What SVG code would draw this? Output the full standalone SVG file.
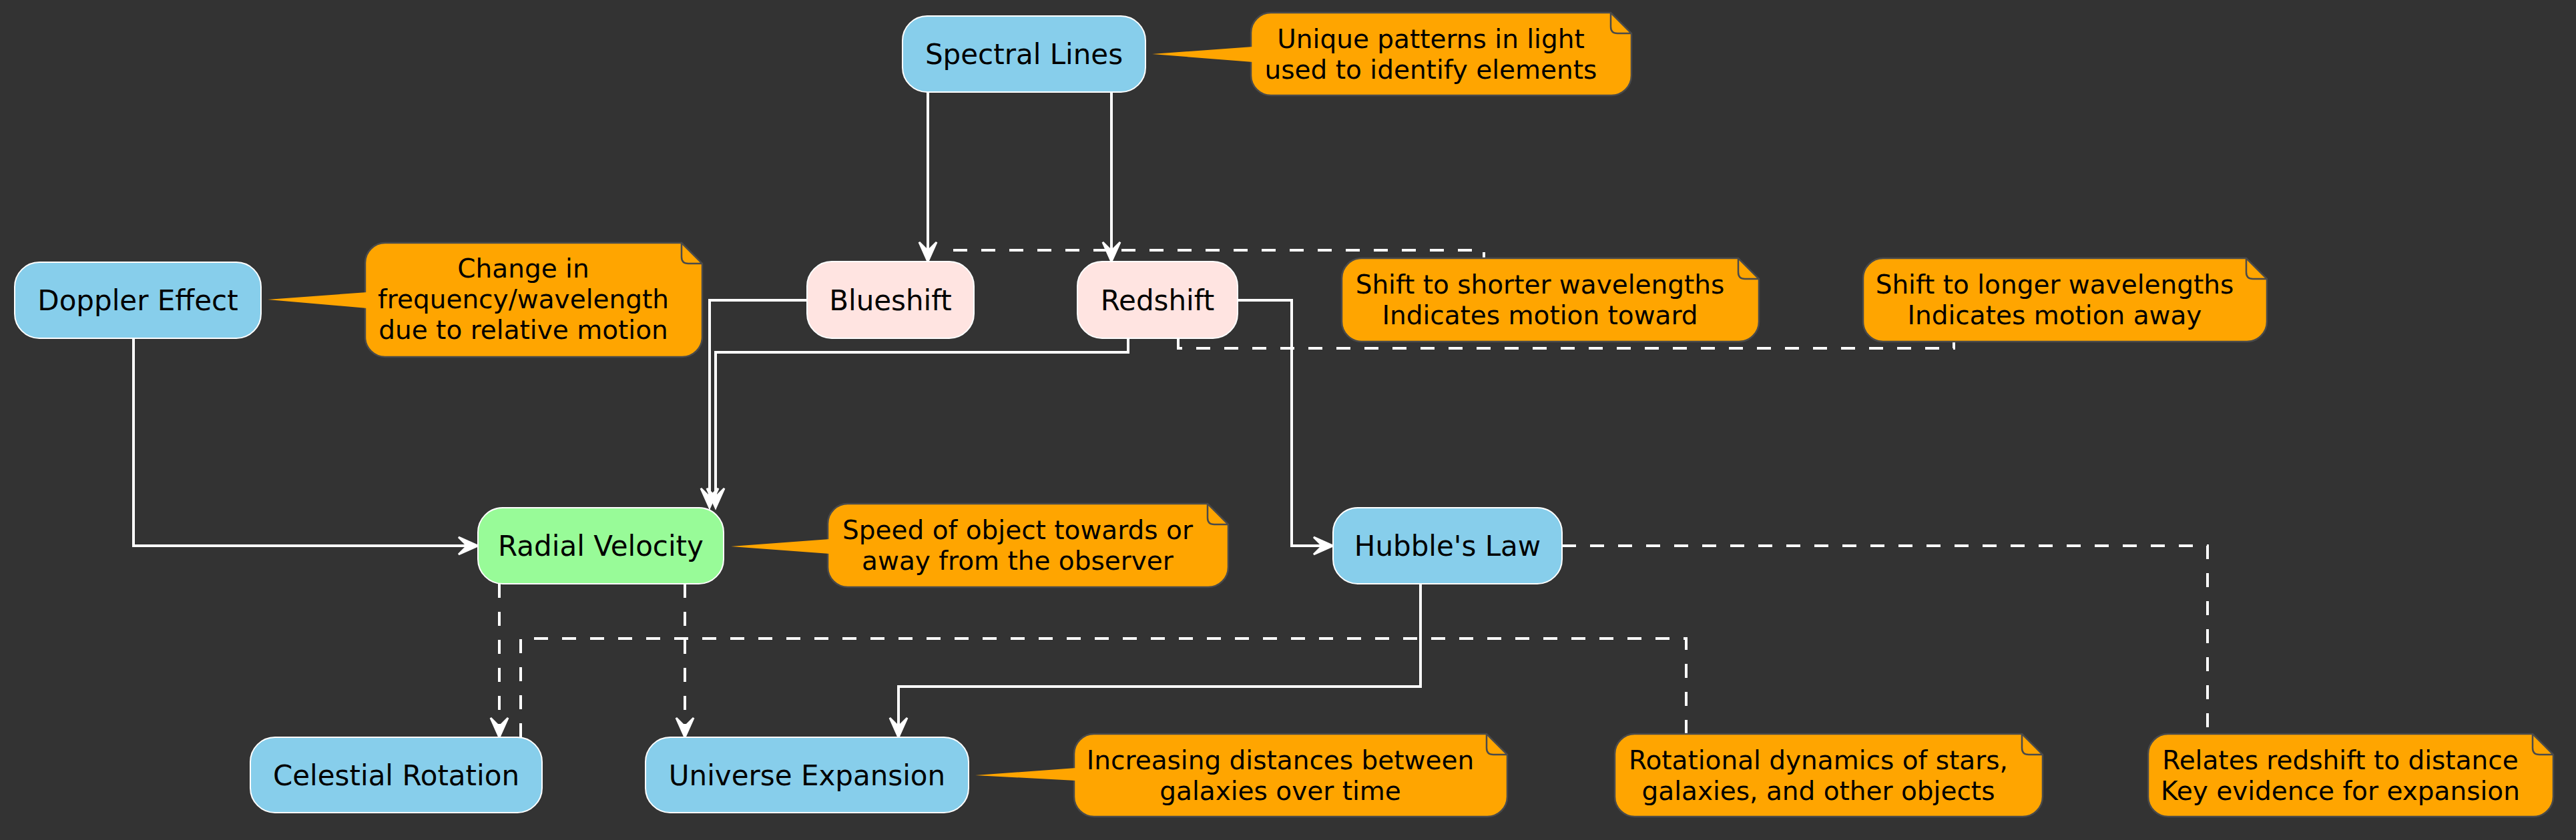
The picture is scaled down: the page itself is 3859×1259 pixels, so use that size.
<svg xmlns="http://www.w3.org/2000/svg" width="3859" height="1259" viewBox="0 0 3859 1259">
<style>
.node{stroke:#FFFFFF;stroke-width:2}
.blue{fill:#87CEEB}
.pink{fill:#FFE4E1}
.green{fill:#98FB98}
.nt{font-family:"DejaVu Sans","Liberation Sans",sans-serif;font-size:42px;fill:#000;text-anchor:middle}
.note{fill:#FFA500;stroke:#4A4A4A;stroke-width:2.5}
.fold{fill:none;stroke:#4A4A4A;stroke-width:2.5}
.tail{fill:#FFA500;stroke:none}
.ntx{font-family:"DejaVu Sans","Liberation Sans",sans-serif;font-size:39px;fill:#000;text-anchor:middle}
.c{fill:none;stroke:#FFFFFF;stroke-width:4}
.d{stroke-dasharray:21 21}
.arr{marker-end:url(#ah)}
</style>
<defs>
<marker id="ah" markerUnits="userSpaceOnUse" viewBox="-34 -18 38 36" refX="-16" refY="0" markerWidth="38" markerHeight="36" orient="auto" overflow="visible">
<path d="M0,0 L-29,-13 L-16,0 L-29,13 Z" fill="#FFFFFF" stroke="#FFFFFF" stroke-width="3" stroke-linejoin="miter" stroke-dasharray="none"/>
</marker>
</defs>
<rect x="0" y="0" width="3859" height="1259" fill="#333333"/>

<g id="connectors">
<path class="c arr" d="M1390,138 V376"/>
<path class="c arr" d="M1665,138 V376"/>
<path class="c arr" d="M200,507 V818 H700"/>
<path class="c arr" d="M1209,450 H1063 V745"/>
<path class="c arr" d="M1690,507 V528 H1072 V745"/>
<path class="c arr" d="M1854,450 H1935 V818 H1981"/>
<path class="c arr" d="M2128,875 V1029 H1346 V1089"/>
<path class="c d arr" d="M748,875 V1089"/>
<path class="c d arr" d="M1026,875 V1089"/>
<path class="c d" d="M780,1105 V957 H2526 V1100"/>
<path class="c d" d="M2340,818 H3307 V1100"/>
<path class="c d" d="M1428,375 H2223 V387"/>
<path class="c d" d="M1765,507 V522 H2927 V512"/>
</g>

<g id="spectral-lines">
<rect class="node blue" x="1352" y="24" width="364" height="114" rx="37" ry="37"/>
<text class="nt" x="1534" y="96">Spectral Lines</text>
</g>
<g id="doppler-effect">
<rect class="node blue" x="22" y="393" width="369" height="114" rx="37" ry="37"/>
<text class="nt" x="206.5" y="465">Doppler Effect</text>
</g>
<g id="blueshift">
<rect class="node pink" x="1209" y="392" width="250" height="115" rx="37" ry="37"/>
<text class="nt" x="1334" y="465">Blueshift</text>
</g>
<g id="redshift">
<rect class="node pink" x="1614" y="392" width="240" height="115" rx="37" ry="37"/>
<text class="nt" x="1734" y="465">Redshift</text>
</g>
<g id="radial-velocity">
<rect class="node green" x="716" y="761" width="368" height="114" rx="37" ry="37"/>
<text class="nt" x="900" y="833">Radial Velocity</text>
</g>
<g id="hubbles-law">
<rect class="node blue" x="1997" y="761" width="343" height="114" rx="37" ry="37"/>
<text class="nt" x="2168.5" y="833">Hubble's Law</text>
</g>
<g id="celestial-rotation">
<rect class="node blue" x="375" y="1105" width="437" height="113" rx="37" ry="37"/>
<text class="nt" x="593.5" y="1177">Celestial Rotation</text>
</g>
<g id="universe-expansion">
<rect class="node blue" x="967" y="1105" width="484" height="113" rx="37" ry="37"/>
<text class="nt" x="1209" y="1177">Universe Expansion</text>
</g>

<g id="note-spectral">
<path class="note" d="M1904,19 H2413 L2444,50 V113 A30,30 0 0 1 2414,143 H1904 A30,30 0 0 1 1874,113 V49 A30,30 0 0 1 1904,19 Z"/>
<path class="fold" d="M2413,19 V40 Q2413,50 2423,50 H2444"/>
<polygon class="tail" points="1877,70 1726,81 1877,93"/>
<text class="ntx" x="2143.5" y="72">Unique patterns in light</text>
<text class="ntx" x="2143.5" y="118">used to identify elements</text>
</g>
<g id="note-doppler">
<path class="note" d="M577,364 H1021 L1052,395 V505 A30,30 0 0 1 1022,535 H577 A30,30 0 0 1 547,505 V394 A30,30 0 0 1 577,364 Z"/>
<path class="fold" d="M1021,364 V385 Q1021,395 1031,395 H1052"/>
<polygon class="tail" points="550,438 401,449 550,462"/>
<text class="ntx" x="784" y="416">Change in</text>
<text class="ntx" x="784" y="462">frequency/wavelength</text>
<text class="ntx" x="784" y="508">due to relative motion</text>
</g>
<g id="note-blueshift">
<path class="note" d="M2040,387 H2604 L2635,418 V482 A30,30 0 0 1 2605,512 H2040 A30,30 0 0 1 2010,482 V417 A30,30 0 0 1 2040,387 Z"/>
<path class="fold" d="M2604,387 V408 Q2604,418 2614,418 H2635"/>
<text class="ntx" x="2307" y="440">Shift to shorter wavelengths</text>
<text class="ntx" x="2307" y="486">Indicates motion toward</text>
</g>
<g id="note-redshift">
<path class="note" d="M2821,387 H3365 L3396,418 V482 A30,30 0 0 1 3366,512 H2821 A30,30 0 0 1 2791,482 V417 A30,30 0 0 1 2821,387 Z"/>
<path class="fold" d="M3365,387 V408 Q3365,418 3375,418 H3396"/>
<text class="ntx" x="3078" y="440">Shift to longer wavelengths</text>
<text class="ntx" x="3078" y="486">Indicates motion away</text>
</g>
<g id="note-radial">
<path class="note" d="M1270,755 H1809 L1840,786 V850 A30,30 0 0 1 1810,880 H1270 A30,30 0 0 1 1240,850 V785 A30,30 0 0 1 1270,755 Z"/>
<path class="fold" d="M1809,755 V776 Q1809,786 1819,786 H1840"/>
<polygon class="tail" points="1243,808 1095,819 1243,830"/>
<text class="ntx" x="1524.5" y="808">Speed of object towards or</text>
<text class="ntx" x="1524.5" y="854">away from the observer</text>
</g>
<g id="note-universe">
<path class="note" d="M1639,1100 H2227 L2258,1131 V1194 A30,30 0 0 1 2228,1224 H1639 A30,30 0 0 1 1609,1194 V1130 A30,30 0 0 1 1639,1100 Z"/>
<path class="fold" d="M2227,1100 V1121 Q2227,1131 2237,1131 H2258"/>
<polygon class="tail" points="1612,1151 1461,1162 1612,1170"/>
<text class="ntx" x="1918" y="1153">Increasing distances between</text>
<text class="ntx" x="1918" y="1199">galaxies over time</text>
</g>
<g id="note-celestial">
<path class="note" d="M2449,1100 H3029 L3060,1131 V1194 A30,30 0 0 1 3030,1224 H2449 A30,30 0 0 1 2419,1194 V1130 A30,30 0 0 1 2449,1100 Z"/>
<path class="fold" d="M3029,1100 V1121 Q3029,1131 3039,1131 H3060"/>
<text class="ntx" x="2724" y="1153">Rotational dynamics of stars,</text>
<text class="ntx" x="2724" y="1199">galaxies, and other objects</text>
</g>
<g id="note-hubble">
<path class="note" d="M3248,1100 H3794 L3825,1131 V1194 A30,30 0 0 1 3795,1224 H3248 A30,30 0 0 1 3218,1194 V1130 A30,30 0 0 1 3248,1100 Z"/>
<path class="fold" d="M3794,1100 V1121 Q3794,1131 3804,1131 H3825"/>
<text class="ntx" x="3506" y="1153">Relates redshift to distance</text>
<text class="ntx" x="3506" y="1199">Key evidence for expansion</text>
</g>
</svg>
